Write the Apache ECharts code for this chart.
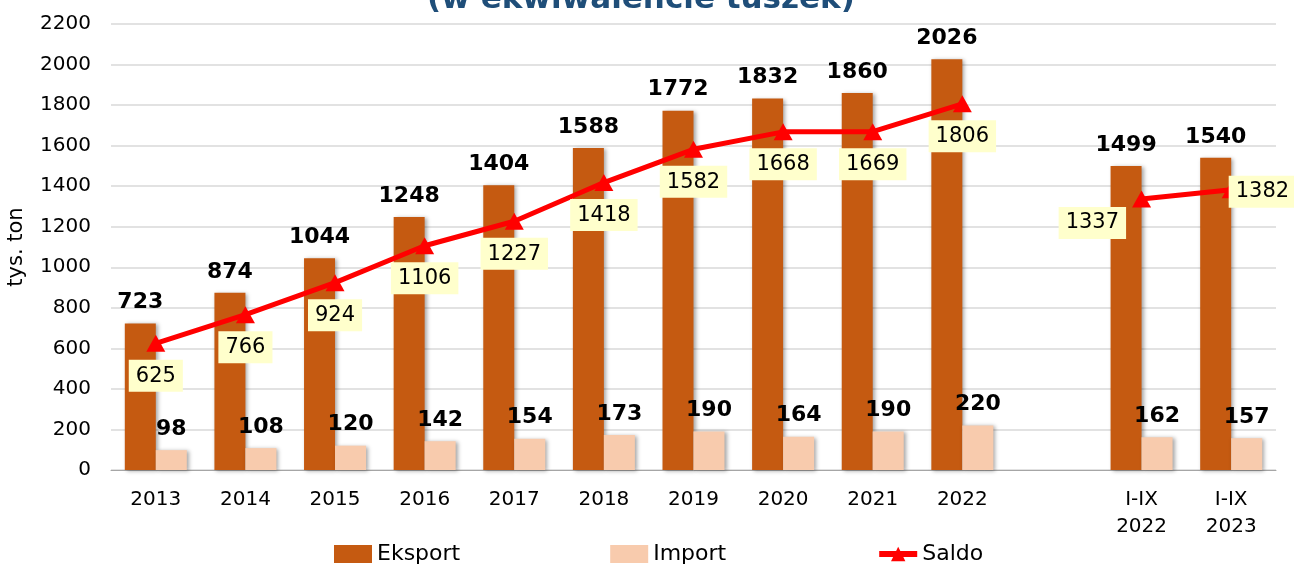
<!DOCTYPE html>
<html>
<head>
    <meta charset="utf-8">
    <title>Eksport, import i saldo</title>
    <script src="https://cdn.jsdelivr.net/npm/echarts@6/dist/echarts.min.js"></script>
</head>
<body style="margin:0">
<div id="main" style="width: 1294px;height:564px;"></div>
<script type="text/javascript">

    /* dane ===================== */
    var kategorie = ['2013', '2014', '2015', '2016', '2017', '2018', '2019', '2020', '2021', '2022', '', 'I-IX\n2022', 'I-IX\n2023'];
    var eksport = [723, 874, 1044, 1248, 1404, 1588, 1772, 1832, 1860, 2026, null, 1499, 1540];
    var importDane = [98, 108, 120, 142, 154, 173, 190, 164, 190, 220, null, 162, 157];
    var saldo = [625, 766, 924, 1106, 1227, 1418, 1582, 1668, 1669, 1806, null, 1337, 1382];

    var font = 'DejaVu Sans';
    var myChart = echarts.init(document.getElementById('main'));

    // etykiety salda - dwa ostatnie punkty maja inne polozenie
    var saldoData = saldo.map(function (v, i) {
        if (i === 11) {
            return {value: v, label: {position: 'left', distance: 6, offset: [0, 24]}};
        }
        if (i === 12) {
            return {value: v, label: {position: 'right', distance: 5, offset: [-17, 2]}};
        }
        return v;
    });

    var barShadow = {
        shadowBlur: 4,
        shadowColor: 'rgba(0,0,0,0.35)',
        shadowOffsetX: 2,
        shadowOffsetY: 1
    };

    myChart.setOption({
        animation: false,
        textStyle: {fontFamily: font},
        title: {
            text: '(w ekwiwalencie tuszek)',
            left: 636,
            top: -21,
            textAlign: 'center',
            textStyle: {fontFamily: font, fontSize: 31, fontWeight: 'bold', color: '#1F4E79'}
        },
        legend: [
            {
                data: [
                    {name: 'Eksport', icon: 'rect'},
                    {name: 'Import', icon: 'rect'},
                    {name: 'Saldo', lineStyle: {width: 6, color: '#FF0000'}}
                ],
                left: 329,
                top: 538,
                itemGap: 150,
                itemWidth: 38,
                itemHeight: 18,
                textStyle: {fontFamily: font, fontSize: 22, color: '#000'}
            }
        ],
        grid: {left: 111, right: 18, top: 24, bottom: 94, outerBoundsMode: 'none', containLabel: false},
        xAxis: {
            type: 'category',
            data: kategorie,
            axisLine: {lineStyle: {color: '#A6A6A6'}},
            axisTick: {length: 6, lineStyle: {color: '#A6A6A6'}},
            axisLabel: {fontFamily: font, fontSize: 20, color: '#000', margin: 16, lineHeight: 27}
        },
        yAxis: {
            type: 'value',
            min: 0,
            max: 2200,
            interval: 200,
            name: 'tys. ton',
            nameLocation: 'middle',
            nameGap: 84,
            nameTextStyle: {fontFamily: font, fontSize: 21, color: '#000'},
            axisLabel: {
                fontFamily: font, fontSize: 20, color: '#000', margin: 20,
                formatter: function (v) { return String(v); }
            },
            splitLine: {lineStyle: {color: '#D9D9D9', width: 1.5}}
        },
        series: [
            {
                name: 'Eksport',
                type: 'bar',
                data: eksport,
                barWidth: 31,
                barGap: '0%',
                itemStyle: Object.assign({color: '#C55A11'}, barShadow),
                label: {
                    show: true,
                    position: 'top',
                    distance: 10,
                    fontFamily: font,
                    fontSize: 22,
                    fontWeight: 'bold',
                    color: '#000'
                }
            },
            {
                name: 'Import',
                type: 'bar',
                data: importDane,
                barWidth: 31,
                barGap: '0%',
                itemStyle: Object.assign({color: '#F8CBAD'}, barShadow),
                label: {
                    show: true,
                    position: 'top',
                    distance: 10,
                    fontFamily: font,
                    fontSize: 22,
                    fontWeight: 'bold',
                    color: '#000'
                }
            },
            {
                name: 'Saldo',
                type: 'line',
                data: saldoData,
                z: 5,
                connectNulls: false,
                symbol: 'triangle',
                symbolSize: [19, 17],
                lineStyle: {color: '#FF0000', width: 5},
                itemStyle: {color: '#FF0000'},
                label: {
                    show: true,
                    position: 'bottom',
                    distance: 8,
                    fontFamily: font,
                    fontSize: 21,
                    color: '#000',
                    backgroundColor: '#FFFFCC',
                    padding: [6, 7, 5, 7]
                }
            }
        ]
    });

</script>
</body>
</html>
